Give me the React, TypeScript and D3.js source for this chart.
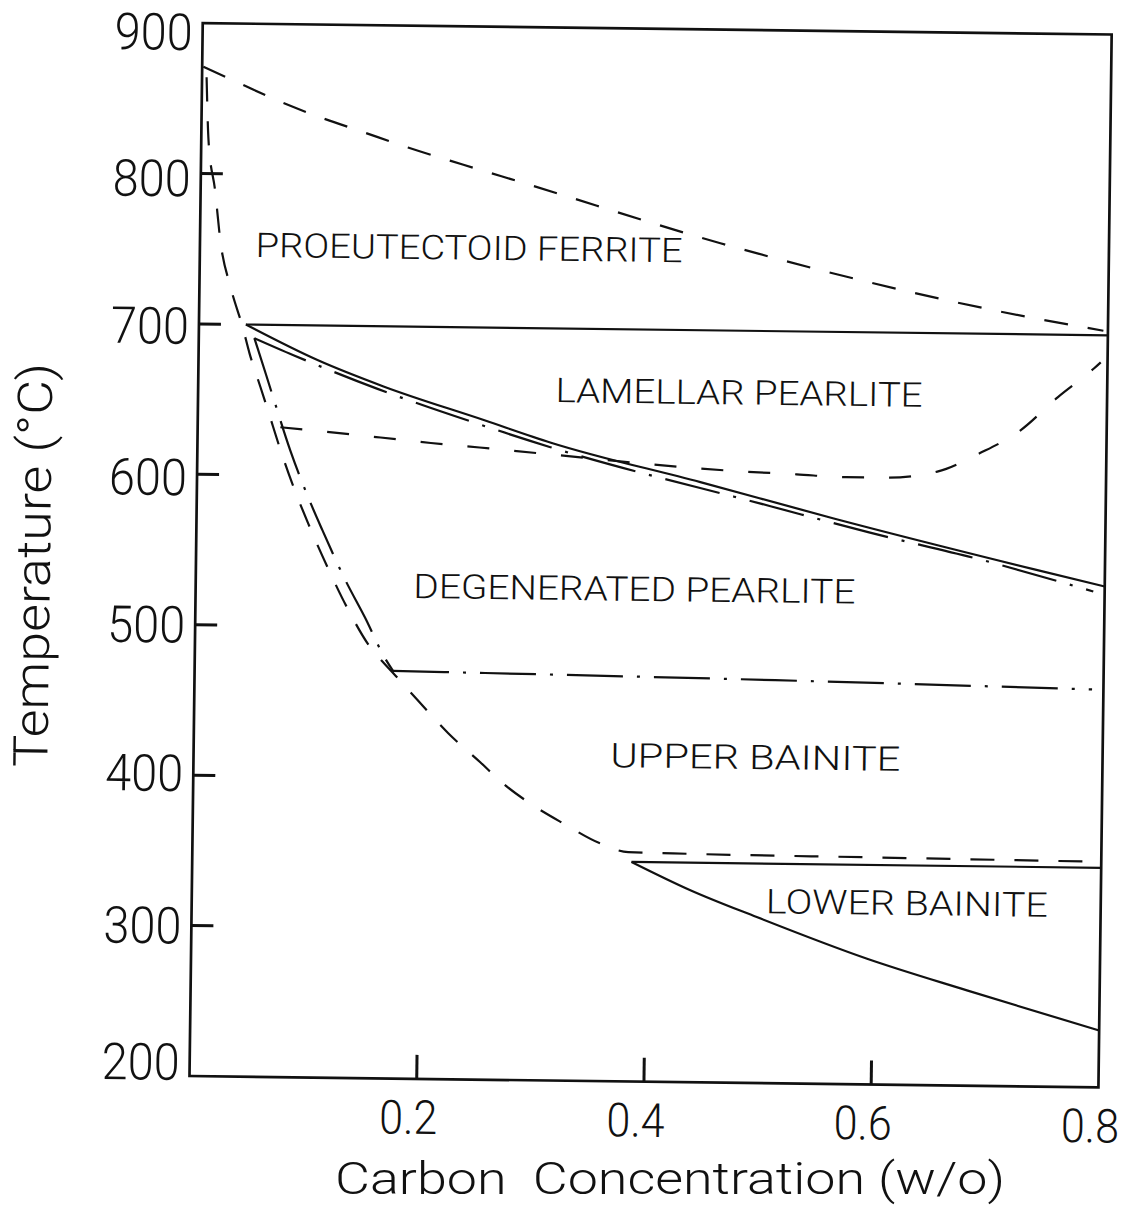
import React from "react";
import * as d3 from "d3";

// ---------- data (carbon w/o, temperature °C) ----------
const xTickValues = [0.2, 0.4, 0.6, 0.8];
const xTickLabels = ["0.2", "0.4", "0.6", "0.8"];
const yTickValues = [200, 300, 400, 500, 600, 700, 800, 900];
const yTickLabels = ["200", "300", "400", "500", "600", "700", "800", "900"];

// upper dashed line (proeutectoid ferrite start)
const ferriteLineX = [0.001, 0.034, 0.067, 0.102, 0.142, 0.182, 0.231, 0.286, 0.458, 0.708, 0.796];
const ferriteLineT = [871, 860, 849, 839, 829, 819, 808, 796, 758, 714.5, 703];

// steep dashed curve, continuing to the lower horizontal dashed line
const startCurveX = [0.004, 0.0064, 0.0127, 0.018, 0.0277, 0.0387, 0.0447, 0.0548, 0.0621, 0.0731, 0.084, 0.0985, 0.1157, 0.1337, 0.1562, 0.1615, 0.1767, 0.1963, 0.2239, 0.2524, 0.2728, 0.2968, 0.3262, 0.3589, 0.3836, 0.4229, 0.6, 0.8];
const startCurveT = [864, 822, 789, 755, 724, 697.7, 681.2, 658.6, 642.1, 617, 594.4, 568, 539.6, 512.4, 484.7, 480.1, 468, 452, 430, 411, 397, 384, 371, 358, 352.5, 352, 351, 350];

// eutectoid horizontal solid line
const eutectoidX = [0.0413, 0.8];
const eutectoidT = [700, 700];

// solid pearlite boundary
const pearliteSolidX = [0.0413, 0.1047, 0.1631, 0.2517, 0.3111, 0.443, 0.5608, 0.737, 0.8];
const pearliteSolidT = [700, 677, 660, 638.5, 624, 599, 576, 544, 533];

// dash-dot line just below the pearlite boundary
const pearliteDashDotX = [0.0489, 0.0835, 0.1579, 0.2446, 0.3107, 0.505, 0.592, 0.693, 0.79];
const pearliteDashDotT = [691, 680, 658.3, 636.4, 621, 583.6, 567, 549.4, 529.6];

// descending dash-dot branch
const degeneratedDashDotX = [0.0489, 0.0518, 0.0654, 0.0819, 0.0964, 0.1108, 0.1316, 0.1496, 0.1668, 0.1746];
const degeneratedDashDotT = [691, 684.6, 653.5, 616.4, 588.6, 564.1, 531, 505.9, 480.1, 471];

// horizontal dash-dot (upper bainite start)
const bainiteDashDotX = [0.1746, 0.511, 0.79];
const bainiteDashDotT = [471, 468, 464.5];

// dashed curve near 600 °C
const lamellarDashedX = [0.0728, 0.1097, 0.1611, 0.2054, 0.2483, 0.298, 0.4762, 0.5276, 0.5709, 0.6051, 0.6514, 0.6884, 0.7239, 0.7565, 0.7883, 0.794];
const lamellarDashedT = [632, 629.6, 626, 622.8, 620.2, 617, 606.6, 605, 603.5, 603.5, 608, 620.5, 636, 658.4, 678, 682];

// lower bainite boundaries
const lowerBainiteTopX = [0.3866, 0.8];
const lowerBainiteTopT = [346, 346];
const lowerBainiteCurveX = [0.3866, 0.4387, 0.4974, 0.595, 0.6832, 0.8];
const lowerBainiteCurveT = [346, 327.7, 310.4, 283.6, 263.4, 237.8];

// region labels (text, anchor carbon, anchor temperature)
const regionText = ["PROEUTECTOID FERRITE", "LAMELLAR PEARLITE", "DEGENERATED PEARLITE", "UPPER BAINITE", "LOWER BAINITE"];
const regionC = [0.049, 0.3146, 0.1917, 0.3668, 0.5054];
const regionT = [745, 651, 519.6, 408.8, 313];

// ---------- layout ----------
const ORIGIN_X = 189.5;
const ORIGIN_Y = 1076;
const TILT = 0.72;
const W = 909;
const H = 1053;
const regionWidths = [427, 367, 442, 290, 282];
const yLabelNudge = [-14, 0, -2, 0, 3, 2, 5, 9];
const FONT = "Roboto, 'DejaVu Sans', sans-serif";

const zip = (xs: number[], ts: number[]) => xs.map((v, i) => [v, ts[i]] as [number, number]);

export default function App() {
  const x = d3.scaleLinear().domain([0, 0.8]).range([0, W]);
  const y = d3.scaleLinear().domain([200, 900]).range([0, -H]);
  const smooth = d3.line<[number, number]>().x(d => x(d[0])).y(d => y(d[1])).curve(d3.curveMonotoneX);
  const straight = d3.line<[number, number]>().x(d => x(d[0])).y(d => y(d[1]));

  const lineStyle = { fill: "none", stroke: "#111", strokeWidth: 2.2 };
  const dashed = "24 20";
  const dashDot = "56 14 3 14";

  return (
    <svg width={1129} height={1206} style={{ position: "absolute", left: 0, top: 0, background: "#fff" }}>
      <rect x={0} y={0} width={1129} height={1206} fill="#fff" />
      <g transform={`translate(${ORIGIN_X},${ORIGIN_Y}) rotate(${TILT})`}>
        {/* frame */}
        <rect x={0} y={-H} width={W} height={H} fill="none" stroke="#111" strokeWidth={2.7} />
        {/* y ticks */}
        {yTickValues.filter(v => v > 200 && v < 900).map(v => (
          <line key={"yt" + v} x1={0} x2={22} y1={y(v)} y2={y(v)} stroke="#111" strokeWidth={3} />
        ))}
        {/* x ticks */}
        {xTickValues.filter(v => v < 0.8).map(v => (
          <line key={"xt" + v} x1={x(v)} x2={x(v)} y1={0} y2={-24} stroke="#111" strokeWidth={3} />
        ))}
        {/* y tick labels */}
        {yTickValues.map((v, i) => (
          <text key={"yl" + v} x={-10} y={y(v) + yLabelNudge[i] + 18} textAnchor="end" fontFamily={FONT} fontWeight={300}
            fontSize={51} textLength={78} lengthAdjust="spacingAndGlyphs" fill="#111">
            {yTickLabels[i]}
          </text>
        ))}
        {/* x tick labels */}
        {xTickValues.map((v, i) => (
          <text key={"xl" + v} x={x(v) - 8} y={55} textAnchor="middle" fontFamily={FONT} fontWeight={300}
            fontSize={47} textLength={58} lengthAdjust="spacingAndGlyphs" fill="#111">
            {xTickLabels[i]}
          </text>
        ))}
        {/* y axis title */}
        <text transform={`translate(-146,-509) rotate(-90)`} x={0} y={0} textAnchor="middle" fontFamily={FONT}
          fontWeight={300} fontSize={48} textLength={404} lengthAdjust="spacingAndGlyphs" fill="#111">
          Temperature (°C)
        </text>

        {/* curves */}
        <path d={smooth(zip(ferriteLineX, ferriteLineT)) || ""} {...lineStyle} strokeDasharray={dashed} />
        <path d={smooth(zip(startCurveX, startCurveT)) || ""} {...lineStyle} strokeDasharray={dashed} />
        <path d={straight(zip(eutectoidX, eutectoidT)) || ""} {...lineStyle} />
        <path d={smooth(zip(pearliteSolidX, pearliteSolidT)) || ""} {...lineStyle} />
        <path d={smooth(zip(pearliteDashDotX, pearliteDashDotT)) || ""} {...lineStyle} strokeDasharray={dashDot} />
        <path d={smooth(zip(degeneratedDashDotX, degeneratedDashDotT)) || ""} {...lineStyle} strokeDasharray={dashDot} />
        <path d={smooth(zip(bainiteDashDotX, bainiteDashDotT)) || ""} {...lineStyle} strokeDasharray={dashDot} />
        <path d={smooth(zip(lamellarDashedX, lamellarDashedT)) || ""} {...lineStyle} strokeDasharray="22 25" />
        <path d={straight(zip(lowerBainiteTopX, lowerBainiteTopT)) || ""} {...lineStyle} />
        <path d={smooth(zip(lowerBainiteCurveX, lowerBainiteCurveT)) || ""} {...lineStyle} />

        {/* region labels */}
        {regionText.map((t, i) => (
          <text key={t} x={x(regionC[i])} y={y(regionT[i])} fontFamily={FONT} fontWeight={300} fontSize={34}
            textLength={regionWidths[i]} lengthAdjust="spacingAndGlyphs" fill="#111">
            {t}
          </text>
        ))}
      </g>
      {/* x axis title */}
      <text x={670} y={1193.5} textAnchor="middle" fontFamily={FONT} fontWeight={300} fontSize={45}
        textLength={670} lengthAdjust="spacingAndGlyphs" fill="#111">
        {"Carbon\u00A0\u00A0Concentration (w/o)"}
      </text>
    </svg>
  );
}
